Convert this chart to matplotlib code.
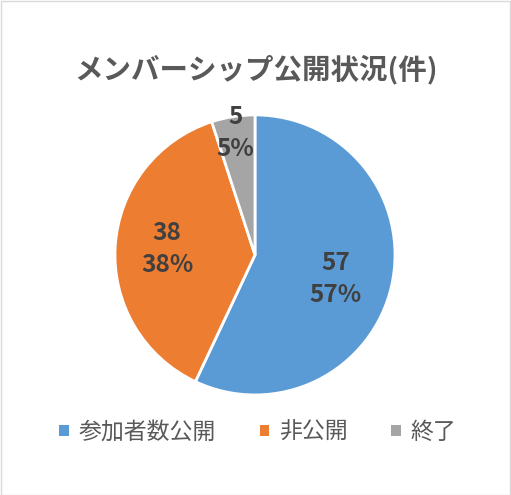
import matplotlib
matplotlib.use("Agg")
import matplotlib.pyplot as plt
from matplotlib.patches import Patch, Rectangle
import numpy as np

plt.rcParams['font.family'] = ['Noto Sans CJK JP', 'DejaVu Sans']

categories = ['参加者数公開', '非公開', '終了']
values = [57, 38, 5]
colors = ['#5B9BD5', '#ED7D31', '#A5A5A5']
title = 'メンバーシップ公開状況(件)'

fig = plt.figure(figsize=(5.11, 4.95), dpi=100)
fig.patch.set_facecolor('white')
fig.add_artist(Rectangle((0.001, 0.001), 0.997, 0.997, transform=fig.transFigure,
                         fill=False, edgecolor='#D9D9D9', linewidth=1.0))

ax = fig.add_axes([0.225, 0.202, 0.548, 0.566])
wedges, _ = ax.pie(values, colors=colors, startangle=90, counterclock=False,
                   radius=1.0, wedgeprops=dict(edgecolor='white', linewidth=2))
ax.set_xlim(-1, 1)
ax.set_ylim(-1, 1)
ax.set_aspect('equal')
ax.axis('off')

total = sum(values)
label_dist = [0.6, 0.63, 0.88]
label_angle_shift = [-4, 0, 0]
for w, v, d, s in zip(wedges, values, label_dist, label_angle_shift):
    mid = np.deg2rad((w.theta1 + w.theta2) / 2 + s)
    ax.text(d * np.cos(mid), d * np.sin(mid), f"{v}\n{round(v / total * 100)}%",
            ha='center', va='center', fontsize=17.5, fontweight='bold',
            color='#404040', linespacing=1.42)

fig.text(0.5, 0.859, title, ha='center', va='center', fontsize=20.5,
         fontweight='bold', color='#595959')

handles = [Patch(facecolor=c, edgecolor='none') for c in colors]
leg = fig.legend(handles, categories, loc='center', bbox_to_anchor=(0.505, 0.127),
                 ncol=3, frameon=False, fontsize=16.5, handlelength=0.4,
                 handleheight=0.4, handletextpad=0.45, columnspacing=1.9)
for t in leg.get_texts():
    t.set_color('#595959')

fig.savefig('out.png', dpi=100)
